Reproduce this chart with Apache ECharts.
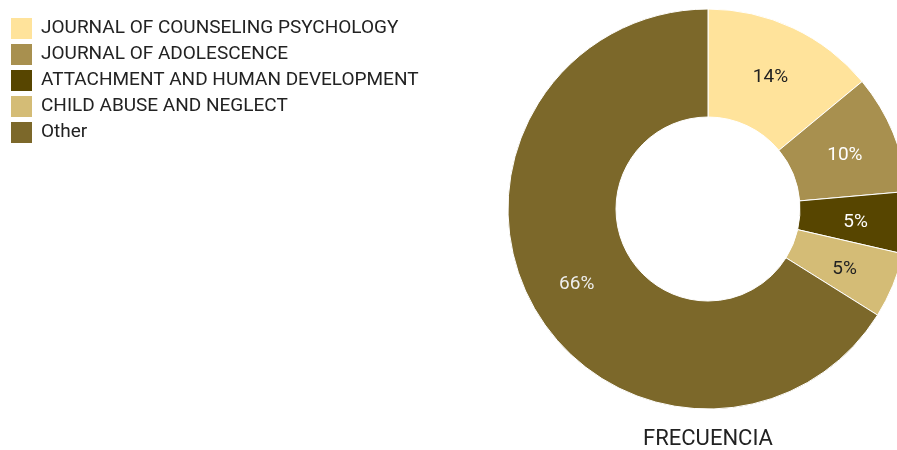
<!DOCTYPE html>
<html>
<head>
<meta charset="utf-8">
<script src="https://cdn.jsdelivr.net/npm/echarts@6/dist/echarts.min.js"></script>
<style>
html,body{margin:0;padding:0;background:#fff;}
#c{width:897px;height:450px;}
</style>
</head>
<body>
<div id="c"></div>
<script>
const categories = ['JOURNAL OF COUNSELING PSYCHOLOGY', 'JOURNAL OF ADOLESCENCE', 'ATTACHMENT AND HUMAN DEVELOPMENT', 'CHILD ABUSE AND NEGLECT', 'Other'];
const values = [14.0, 9.6, 5.0, 5.3, 66.1];
const colors = ['#FFE39B', '#A8904F', '#574500', '#D4BC76', '#7C682A'];
const labelColors = ['#222222', '#ffffff', '#ffffff', '#222222', '#eeeeee'];
const title = 'FRECUENCIA';

const chart = echarts.init(document.getElementById('c'));
chart.setOption({
  animation: false,
  textStyle: { fontFamily: 'Roboto' },
  title: {
    text: title,
    left: 708, top: 428,
    textAlign: 'center',
    padding: 0,
    textStyle: { fontFamily: 'Roboto', fontSize: 22, fontWeight: 'normal', color: '#222', lineHeight: 22 }
  },
  legend: {
    orient: 'vertical',
    left: 9, top: 16,
    padding: 0,
    itemWidth: 23, itemHeight: 23, itemGap: 1,
    icon: 'rect',
    data: categories,
    textStyle: { fontFamily: 'Roboto', fontSize: 19, lineHeight: 20, color: '#222', padding: [0, 0, 0, 3] }
  },
  series: [{
    type: 'pie',
    center: [708, 209],
    radius: [92, 200],
    startAngle: 90,
    clockwise: true,
    avoidLabelOverlap: false,
    itemStyle: { borderColor: '#fff', borderWidth: 1 },
    label: {
      show: true, position: 'inside',
      fontFamily: 'Roboto', fontSize: 19,
      offset: [-1, 3],
      formatter: p => Math.round(p.percent) + '%'
    },
    labelLine: { show: false },
    emphasis: { disabled: true },
    data: categories.map((n, i) => ({
      name: n, value: values[i],
      itemStyle: { color: colors[i] },
      label: { color: labelColors[i] }
    }))
  }]
});
</script>
</body>
</html>
